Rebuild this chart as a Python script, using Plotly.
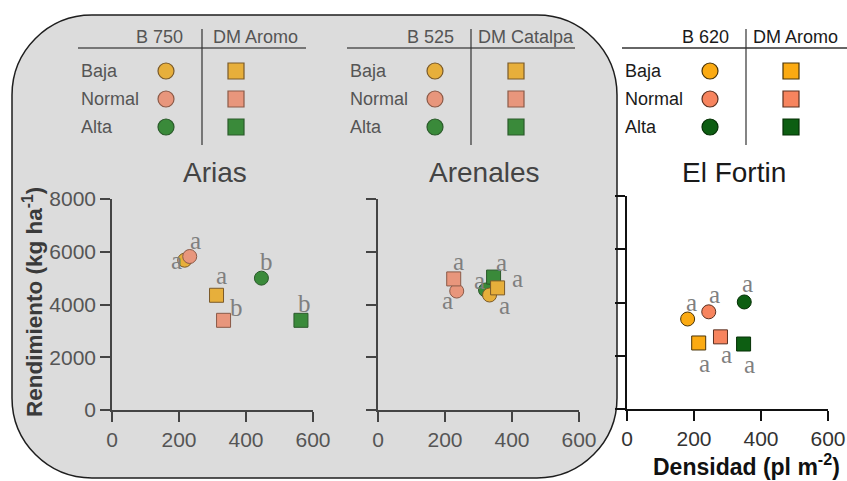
import plotly.graph_objects as go

W, H = 847, 481

# ---------------------------------------------------------------- data
sitios = ["Arias", "Arenales", "El Fortin"]
densidades = ["Baja", "Normal", "Alta"]
hibridos = ["B 750", "B 525", "B 620"]
variedades = ["DM Aromo", "DM Catalpa", "DM Aromo"]

x_ticks = [0, 200, 400, 600]
y_ticks = [0, 2000, 4000, 6000, 8000]

# density reached (pl m-2) and yield (kg ha-1); order: Baja, Normal, Alta
arias_hib_dens = [217, 232, 446]
arias_hib_rend = [5680, 5820, 5000]
arias_var_dens = [312, 333, 564]
arias_var_rend = [4350, 3400, 3400]
arias_hib_letras = ["a", "a", "b"]
arias_var_letras = ["a", "b", "b"]

arenales_hib_dens = [333, 235, 321]
arenales_hib_rend = [4360, 4510, 4550]
arenales_var_dens = [357, 226, 345]
arenales_var_rend = [4630, 4970, 5040]
arenales_hib_letras = ["a", "a", "a"]
arenales_var_letras = ["a", "a", "a"]

fortin_hib_dens = [181, 244, 350]
fortin_hib_rend = [3380, 3650, 4020]
fortin_var_dens = [214, 279, 348]
fortin_var_rend = [2480, 2710, 2440]
fortin_hib_letras = ["a", "a", "a"]
fortin_var_letras = ["a", "a", "a"]

# ---------------------------------------------------------------- style
def px(x):
    return x / W


def py(y):
    return 1 - y / H


colores_gris = ["#E7AF3B", "#E8967C", "#3A8A3A"]
colores_fortin = ["#FBAA12", "#F7845E", "#0D5E12"]
borde_gris = ["#7A5A2A", "#8A5A48", "#2B5A2B"]
borde_fortin = ["#4A3408", "#5A3020", "#053005"]

# plot-area positions (px) of each panel
paneles = [
    dict(x0=112, x1=313, y0=410, y1=199),
    dict(x0=378, x1=579, y0=410, y1=199),
    dict(x0=627, x1=828, y0=409, y1=196),
]

# label nudges (px, screen coords) per point: Baja, Normal, Alta
shift_hib = [
    [(-8, 0), (6, -16), (5, -17)],
    [(15, 10), (-9, 9), (-6, -9)],
    [(4, -17), (6, -17), (3, -18)],
]
shift_var = [
    [(5, -20), (13, -13), (4, -17)],
    [(20, -9), (5, -17), (8, -15)],
    [(6, 21), (6, 18), (6, 20)],
]

datos = [
    (arias_hib_dens, arias_hib_rend, arias_var_dens, arias_var_rend,
     arias_hib_letras, arias_var_letras),
    (arenales_hib_dens, arenales_hib_rend, arenales_var_dens, arenales_var_rend,
     arenales_hib_letras, arenales_var_letras),
    (fortin_hib_dens, fortin_hib_rend, fortin_var_dens, fortin_var_rend,
     fortin_hib_letras, fortin_var_letras),
]

SANS = "Liberation Sans"
SERIF = "Liberation Serif"

fig = go.Figure()
annotations = []
shapes = []


# rounded grey background behind Arias and Arenales
def rounded_rect(x0, y0, x1, y1, r):
    k = 0.5523 * r

    def P(x, y):
        return f"{px(x):.5f},{py(y):.5f}"
    return (
        f"M {P(x0 + r, y0)} L {P(x1 - r, y0)} "
        f"C {P(x1 - r + k, y0)} {P(x1, y0 + r - k)} {P(x1, y0 + r)} "
        f"L {P(x1, y1 - r)} "
        f"C {P(x1, y1 - r + k)} {P(x1 - r + k, y1)} {P(x1 - r, y1)} "
        f"L {P(x0 + r, y1)} "
        f"C {P(x0 + r - k, y1)} {P(x0, y1 - r + k)} {P(x0, y1 - r)} "
        f"L {P(x0, y0 + r)} "
        f"C {P(x0, y0 + r - k)} {P(x0 + r - k, y0)} {P(x0 + r, y0)} Z"
    )


shapes.append(dict(
    type="path", xref="paper", yref="paper", layer="below",
    path=rounded_rect(12, 15, 617, 478, 80),
    fillcolor="#DCDCDC", line=dict(color="#1E1E1E", width=1.5),
))

for i, sitio in enumerate(sitios):
    p = paneles[i]
    en_gris = i < 2
    ax = "" if i == 0 else str(i + 1)
    xa, ya = "x" + ax, "y" + ax
    eje_color = "#444444" if en_gris else "#111111"
    tick_color = "#555555" if en_gris else "#333333"
    fills = colores_gris if en_gris else colores_fortin
    bordes = borde_gris if en_gris else borde_fortin

    common = dict(showgrid=False, zeroline=False, showline=True, linecolor=eje_color,
                  linewidth=1.6 if en_gris else 2, ticks="outside", ticklen=10,
                  tickwidth=1.6 if en_gris else 2, tickcolor=eje_color,
                  automargin=False,
                  tickfont=dict(family=SANS, size=21, color=tick_color))
    fig.update_layout(**{
        "xaxis" + ax: dict(common, domain=[px(p["x0"]), px(p["x1"])], range=[0, 600],
                          tickvals=x_ticks, anchor=ya, fixedrange=True),
        "yaxis" + ax: dict(common, domain=[py(p["y0"]), py(p["y1"])], range=[0, 8000],
                          tickvals=y_ticks, anchor=xa, showticklabels=(i == 0),
                          fixedrange=True),
    })

    hd, hr, vd, vr, hl, vl = datos[i]
    # draw order: Alta, Baja, Normal; circles then squares
    for simbolo, dens, rend in (("circle", hd, hr), ("square", vd, vr)):
        for j in (2, 0, 1):
            fig.add_trace(go.Scatter(
                x=[dens[j]], y=[rend[j]], xaxis=xa, yaxis=ya, mode="markers",
                marker=dict(symbol=simbolo, size=14, color=fills[j],
                            line=dict(color=bordes[j], width=1)),
                showlegend=False, hoverinfo="skip",
            ))
    for dens, rend, letras, shifts in ((hd, hr, hl, shift_hib[i]), (vd, vr, vl, shift_var[i])):
        for j in range(3):
            annotations.append(dict(
                x=dens[j], y=rend[j], xref=xa, yref=ya, text=letras[j], showarrow=False,
                xanchor="center", yanchor="middle",
                xshift=shifts[j][0], yshift=-shifts[j][1],
                font=dict(family=SERIF, size=25, color="#7F7F7F"),
            ))

    # panel title
    titulo_x = [215, 485, 734][i]
    annotations.append(dict(
        x=px(titulo_x), y=py(172), xref="paper", yref="paper", text=sitio,
        showarrow=False, xanchor="center", yanchor="middle",
        font=dict(family=SANS, size=28, color="#444444" if en_gris else "#1A1A1A"),
    ))

    # legend table
    leg = [
        dict(left=79, hib_end=185, var_start=211, line=(78, 306), sep=202, circ=166, sq=236),
        dict(left=348, hib_end=456, var_start=476, line=(347, 575), sep=471, circ=435, sq=516),
        dict(left=623, hib_end=731, var_start=751, line=(622, 847), sep=746, circ=710, sq=791),
    ][i]
    texto = "#555555" if en_gris else "#1A1A1A"
    annotations.append(dict(
        x=px(leg["hib_end"]), y=py(37), xref="paper", yref="paper", text=hibridos[i],
        showarrow=False, xanchor="right", yanchor="middle",
        font=dict(family=SANS, size=18, color=texto)))
    annotations.append(dict(
        x=px(leg["var_start"]), y=py(37), xref="paper", yref="paper", text=variedades[i],
        showarrow=False, xanchor="left", yanchor="middle",
        font=dict(family=SANS, size=18, color=texto)))
    shapes.append(dict(type="line", xref="paper", yref="paper",
                       x0=px(leg["line"][0]), x1=px(leg["line"][1]), y0=py(48), y1=py(48),
                       line=dict(color="#555555" if en_gris else "#333333", width=1.5)))
    shapes.append(dict(type="line", xref="paper", yref="paper",
                       x0=px(leg["sep"]), x1=px(leg["sep"]), y0=py(29), y1=py(145),
                       line=dict(color="#333333", width=1.2)))
    for j, nombre in enumerate(densidades):
        fila = [71, 99, 127][j]
        annotations.append(dict(
            x=px(leg["left"]), y=py(fila), xref="paper", yref="paper", text=nombre,
            showarrow=False, xanchor="left", yanchor="middle",
            font=dict(family=SANS, size=18, color=texto)))
        for tipo, cx in (("circle", leg["circ"]), ("rect", leg["sq"])):
            shapes.append(dict(
                type=tipo, xref="paper", yref="paper",
                xsizemode="pixel", ysizemode="pixel",
                xanchor=px(cx), yanchor=py(fila),
                x0=-8, x1=8, y0=-8, y1=8,
                fillcolor=fills[j], line=dict(color=bordes[j], width=1.2),
            ))

# axis titles
annotations.append(dict(
    x=px(33), y=py(302), xref="paper", yref="paper", xanchor="center", yanchor="middle",
    text="<b>Rendimiento (kg ha<sup>-1</sup>)</b>", textangle=-90, showarrow=False,
    font=dict(family=SANS, size=22.5, color="#3A3A3A")))
annotations.append(dict(
    x=px(746), y=py(465), xref="paper", yref="paper", xanchor="center", yanchor="middle",
    text="<b>Densidad (pl m<sup>-2</sup>)</b>", showarrow=False,
    font=dict(family=SANS, size=23, color="#111111")))

fig.update_layout(
    width=W, height=H, margin=dict(l=0, r=0, t=0, b=0, pad=0, autoexpand=False),
    paper_bgcolor="white", plot_bgcolor="rgba(0,0,0,0)",
    showlegend=False, annotations=annotations, shapes=shapes,
)

fig.write_html("out.html")
